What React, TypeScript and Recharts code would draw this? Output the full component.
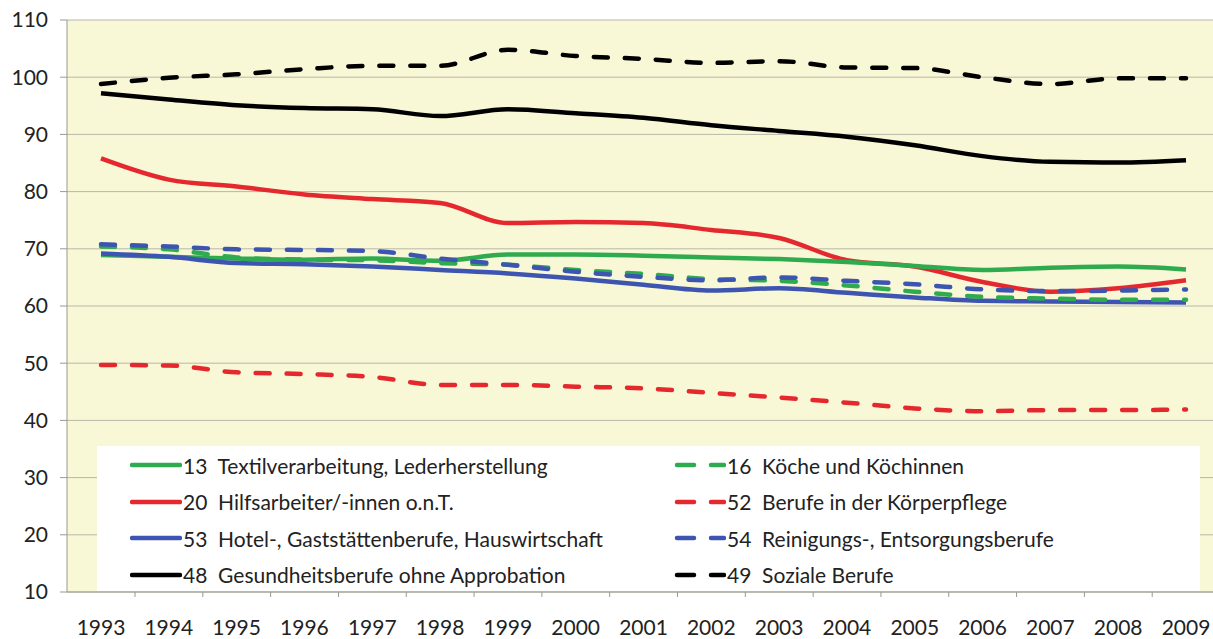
import { CartesianGrid, Line, LineChart, XAxis, YAxis } from "recharts";

const years = [
  "1993", "1994", "1995", "1996", "1997", "1998", "1999", "2000", "2001",
  "2002", "2003", "2004", "2005", "2006", "2007", "2008", "2009",
];

// values
const textil = [68.9, 68.6, 68.3, 68.1, 68.3, 67.9, 69.0, 69.0, 68.8, 68.5, 68.2, 67.7, 67.0, 66.3, 66.7, 66.9, 66.4];
const koeche = [70.4, 69.9, 68.5, 68.1, 68.0, 67.5, 67.2, 66.3, 65.6, 64.7, 64.4, 63.6, 62.5, 61.6, 61.3, 61.1, 61.1];
const hilfs = [85.8, 82.1, 80.9, 79.5, 78.7, 78.0, 74.5, 74.7, 74.5, 73.3, 71.9, 68.0, 66.9, 64.2, 62.5, 63.1, 64.5];
const koerper = [49.7, 49.6, 48.4, 48.1, 47.6, 46.2, 46.2, 45.9, 45.6, 44.8, 44.0, 43.1, 42.1, 41.6, 41.8, 41.8, 41.9];
const hotel = [69.2, 68.6, 67.5, 67.3, 66.9, 66.3, 65.7, 64.8, 63.7, 62.7, 63.1, 62.3, 61.5, 60.9, 60.8, 60.7, 60.6];
const reinigung = [70.8, 70.4, 69.9, 69.8, 69.6, 68.3, 67.2, 66.0, 65.1, 64.5, 65.0, 64.4, 63.8, 62.9, 62.6, 62.7, 62.9];
const gesundheit = [97.2, 96.1, 95.1, 94.6, 94.4, 93.2, 94.4, 93.7, 92.9, 91.6, 90.6, 89.6, 88.1, 86.2, 85.2, 85.1, 85.5];
const sozial = [98.8, 99.9, 100.5, 101.4, 102.0, 102.0, 104.8, 103.7, 103.2, 102.5, 102.8, 101.7, 101.6, 100.0, 98.8, 99.8, 99.8];

const yTicks = [10, 20, 30, 40, 50, 60, 70, 80, 90, 100, 110];

const GREEN = "#2eaa4f";
const RED = "#e4282e";
const BLUE = "#3d55b0";
const BLACK = "#000000";

const series = [
  { key: "s13", name: "13  Textilverarbeitung, Lederherstellung", values: textil, color: GREEN, dashed: false },
  { key: "s20", name: "20  Hilfsarbeiter/-innen o.n.T.", values: hilfs, color: RED, dashed: false },
  { key: "s53", name: "53  Hotel-, Gaststättenberufe, Hauswirtschaft", values: hotel, color: BLUE, dashed: false },
  { key: "s48", name: "48  Gesundheitsberufe ohne Approbation", values: gesundheit, color: BLACK, dashed: false },
  { key: "s16", name: "16  Köche und Köchinnen", values: koeche, color: GREEN, dashed: true },
  { key: "s52", name: "52  Berufe in der Körperpflege", values: koerper, color: RED, dashed: true },
  { key: "s54", name: "54  Reinigungs-, Entsorgungsberufe", values: reinigung, color: BLUE, dashed: true },
  { key: "s49", name: "49  Soziale Berufe", values: sozial, color: BLACK, dashed: true },
];

// draw order: solid series under dashed ones, as in the original
const drawOrder = ["s52", "s48", "s49", "s20", "s13", "s53", "s16", "s54"];

const data = years.map((year, i) => {
  const row: Record<string, string | number> = { year };
  series.forEach((s) => {
    row[s.key] = s.values[i];
  });
  return row;
});

const FONT = "Lato, 'Open Sans', sans-serif";

function YearTick(props: any) {
  const { x, y, payload } = props;
  return (
    <g>
      <line x1={x + 34} x2={x + 34} y1={y} y2={y + 5} stroke="#9a9a90" strokeWidth={1} />
      <text x={x} y={y + 43} textAnchor="middle" fill="#222" fontSize={21} fontFamily={FONT}>
        {payload.value}
      </text>
    </g>
  );
}

function LegendBox() {
  const cols = [series.slice(0, 4), series.slice(4)];
  return (
    <div
      style={{
        position: "absolute",
        left: 97,
        top: 446,
        width: 1103,
        height: 145,
        background: "#fff",
      }}
    >
      {cols.map((col, c) =>
        col.map((s, r) => (
          <div
            key={s.key}
            style={{
              position: "absolute",
              left: c === 0 ? 33 : 577,
              top: r * 36.5,
              height: 38,
              display: "flex",
              alignItems: "center",
              whiteSpace: "nowrap",
              fontFamily: FONT,
              fontSize: 21,
              color: "#222",
            }}
          >
            <svg width={52} height={10} style={{ marginRight: 1 }}>
              {s.dashed ? (
                <>
                  <line x1={3} x2={20} y1={5} y2={5} stroke={s.color} strokeWidth={4.5} strokeLinecap="round" />
                  <line x1={37} x2={50} y1={5} y2={5} stroke={s.color} strokeWidth={4.5} strokeLinecap="round" />
                </>
              ) : (
                <line x1={2} x2={50} y1={5} y2={5} stroke={s.color} strokeWidth={4.5} strokeLinecap="round" />
              )}
            </svg>
            <span style={{ whiteSpace: "pre" }}>{s.name}</span>
          </div>
        ))
      )}
    </div>
  );
}

export default function App() {
  return (
    <div
      style={{
        position: "absolute",
        left: 0,
        top: 0,
        width: 1213,
        height: 639,
        overflow: "hidden",
        background: "#fff",
      }}
    >
      <LineChart width={1220} height={639} data={data} margin={{ top: 20, right: 0, bottom: 0, left: 0 }}>
        <CartesianGrid vertical={false} stroke="#b8b8ac" fill="#f8f7d6" />
        <XAxis
          dataKey="year"
          height={47}
          padding={{ left: 34, right: 34 }}
          tickLine={false}
          tickSize={0}
          tickMargin={0}
          axisLine={{ stroke: "#9a9a90" }}
          tick={<YearTick />}
          interval={0}
        />
        <YAxis
          width={67}
          domain={[10, 110]}
          ticks={yTicks}
          interval={0}
          tickSize={7}
          tickMargin={12}
          tickLine={{ stroke: "#9a9a90" }}
          axisLine={{ stroke: "#9a9a90" }}
          tick={{ fill: "#222", fontSize: 21, fontFamily: FONT }}
        />
        {drawOrder.map((k) => {
          const s = series.find((x) => x.key === k)!;
          return (
            <Line
              key={s.key}
              type="monotone"
              dataKey={s.key}
              name={s.name}
              stroke={s.color}
              strokeWidth={4.5}
              strokeDasharray={s.dashed ? "14 17" : undefined}
              strokeLinecap={s.dashed ? "round" : "butt"}
              dot={false}
              activeDot={false}
              isAnimationActive={false}
            />
          );
        })}
      </LineChart>
      <LegendBox />
    </div>
  );
}
